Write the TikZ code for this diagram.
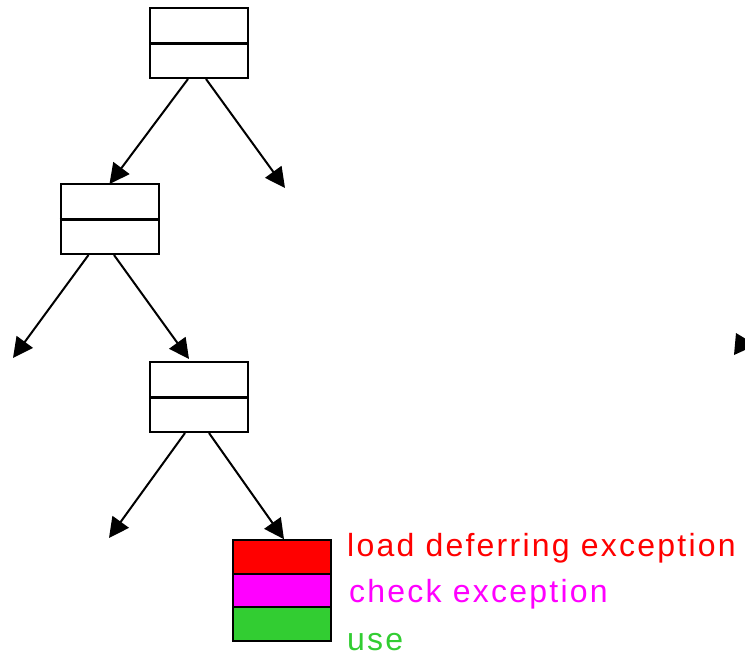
\documentclass[tikz,border=0pt]{standalone}
\usepackage{fontspec}
\setmainfont{Liberation Sans}[LetterSpace=7]
\usetikzlibrary{arrows.meta}
\definecolor{usegreen}{RGB}{50,205,50}
\definecolor{loadred}{RGB}{255,0,0}
\definecolor{checkmagenta}{RGB}{255,0,255}
\tikzset{
  frame/.style={draw, line width=2pt, minimum width=98pt, minimum height=70pt, inner sep=0pt},
  slot/.style={draw, line width=2pt, minimum width=98pt, minimum height=33.5pt, inner sep=0pt},
  link/.style={line width=2pt, -{Triangle[length=20pt,width=20pt]}},
  divider/.style={line width=3pt},
  tag/.style={anchor=base west, inner sep=0pt, font=\fontsize{32}{38}\selectfont}
}
\begin{document}
\begin{tikzpicture}[x=1pt, y=-1pt]
  \useasboundingbox (0,0) rectangle (745,656);

  % tree of two-part boxes
  \node[frame] (n1) at (199,43) {};
  \node[frame] (n2) at (109.5,219) {};
  \node[frame] (n3) at (199,397) {};
  \foreach \n in {n1,n2,n3} \draw[divider] (\n.west) -- (\n.east);

  % free ends of the branches
  \coordinate (e1) at (285,188);
  \coordinate (e2) at (13,358);
  \coordinate (e3) at (189,359);
  \coordinate (e4) at (109,538);

  % stacked operation slots
  \node[slot, fill=loadred] (s1) at (281.5,557) {};
  \node[slot, fill=checkmagenta] (s2) at (281.5,590.5) {};
  \node[slot, fill=usegreen] (s3) at (281.5,624) {};

  % branches
  \draw[link] ([xshift=-11pt]n1.south) -- ([yshift=-1pt]n2.north);
  \draw[link] ([xshift=7pt]n1.south) -- (e1);
  \draw[link] ([xshift=-21pt]n2.south) -- (e2);
  \draw[link] ([xshift=4.5pt]n2.south) -- (e3);
  \draw[link] ([xshift=-14pt]n3.south) -- (e4);
  \draw[link] ([xshift=10pt]n3.south) -- ([xshift=2.5pt]s1.north);

  % arrowhead entering from the right edge
  \begin{scope}
    \clip (0,0) rectangle (745,656);
    \fill (736,333) -- (756,345) -- (734,355) -- cycle;
  \end{scope}

  % slot labels
  \node[tag, text=loadred] (l1) at (347,556) {load deferring exception};
  \node[tag, text=checkmagenta] (l2) at (349,602) {check exception};
  \node[tag, text=usegreen] (l3) at (347,650) {use};
\end{tikzpicture}
\end{document}
